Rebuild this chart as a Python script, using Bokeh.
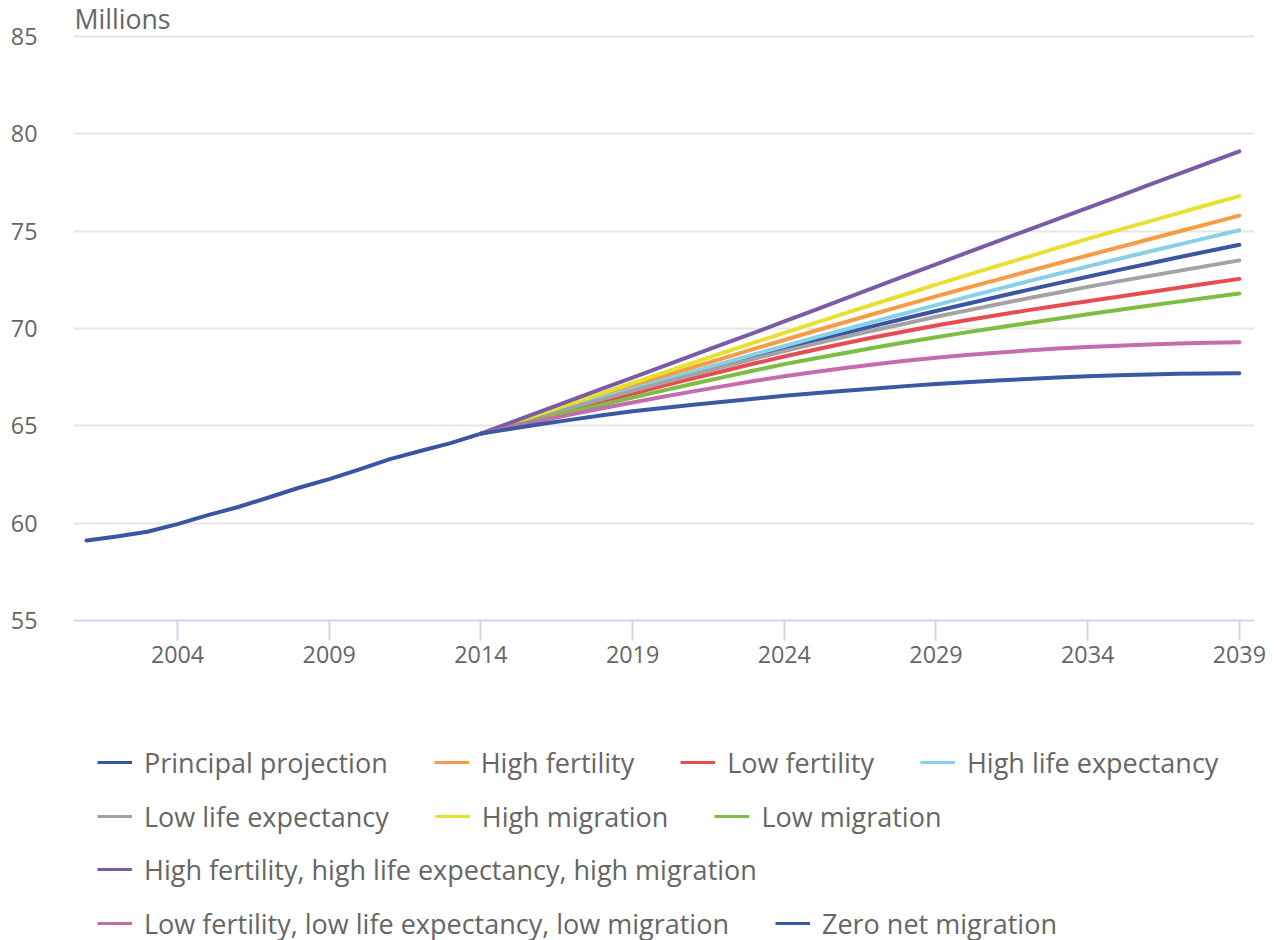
from bokeh.plotting import figure
from bokeh.models import Range1d, FixedTicker, Legend, LegendItem, Label
from bokeh.layouts import column
from bokeh.embed import file_html
from bokeh.resources import INLINE

# ---------------- data (millions) ----------------
hist_years = list(range(2001, 2015))
hist_values = [59.11, 59.32, 59.56, 59.95, 60.41, 60.83, 61.32, 61.82, 62.26,
               62.76, 63.29, 63.71, 64.11, 64.60]

proj_years = list(range(2014, 2040))

principal = [64.60, 65.06, 65.52, 65.97, 66.41, 66.85, 67.29, 67.72, 68.15, 68.57,
             68.98, 69.38, 69.77, 70.15, 70.53, 70.90, 71.26, 71.62, 71.97, 72.32,
             72.66, 73.00, 73.33, 73.66, 73.98, 74.30]
high_fertility = [64.60, 65.10, 65.59, 66.08, 66.57, 67.05, 67.53, 68.01, 68.48, 68.95,
                  69.41, 69.87, 70.32, 70.77, 71.21, 71.65, 72.08, 72.50, 72.92, 73.34,
                  73.75, 74.16, 74.57, 74.98, 75.39, 75.80]
low_fertility = [64.60, 65.02, 65.44, 65.85, 66.25, 66.65, 67.05, 67.44, 67.82, 68.20,
                 68.56, 68.91, 69.24, 69.56, 69.86, 70.15, 70.42, 70.68, 70.93, 71.17,
                 71.40, 71.63, 71.86, 72.09, 72.32, 72.55]
high_life_exp = [64.60, 65.07, 65.53, 65.99, 66.45, 66.90, 67.35, 67.79, 68.23, 68.67,
                 69.10, 69.53, 69.95, 70.37, 70.79, 71.20, 71.61, 72.01, 72.41, 72.80,
                 73.19, 73.57, 73.94, 74.31, 74.68, 75.05]
low_life_exp = [64.60, 65.05, 65.50, 65.94, 66.37, 66.80, 67.22, 67.63, 68.04, 68.44,
                68.84, 69.21, 69.57, 69.92, 70.26, 70.60, 70.92, 71.23, 71.54, 71.84,
                72.14, 72.42, 72.69, 72.96, 73.23, 73.50]
high_migration = [64.60, 65.12, 65.64, 66.16, 66.68, 67.20, 67.72, 68.24, 68.76, 69.27,
                  69.78, 70.28, 70.78, 71.27, 71.76, 72.25, 72.73, 73.20, 73.67, 74.14,
                  74.60, 75.05, 75.49, 75.93, 76.37, 76.80]
low_migration = [64.60, 64.98, 65.35, 65.72, 66.09, 66.45, 66.81, 67.16, 67.50, 67.84,
                 68.17, 68.46, 68.74, 69.02, 69.29, 69.55, 69.80, 70.04, 70.27, 70.50,
                 70.73, 70.95, 71.17, 71.38, 71.59, 71.80]
high_all = [64.60, 65.18, 65.76, 66.33, 66.91, 67.48, 68.06, 68.63, 69.21, 69.78,
            70.36, 70.95, 71.54, 72.12, 72.71, 73.30, 73.88, 74.46, 75.04, 75.62,
            76.20, 76.78, 77.36, 77.94, 78.52, 79.10]
low_all = [64.60, 64.94, 65.27, 65.59, 65.90, 66.20, 66.49, 66.77, 67.04, 67.30,
           67.55, 67.77, 67.97, 68.16, 68.34, 68.50, 68.64, 68.76, 68.87, 68.97,
           69.05, 69.12, 69.18, 69.23, 69.27, 69.30]
zero_net = [64.60, 64.85, 65.09, 65.32, 65.54, 65.75, 65.92, 66.08, 66.24, 66.39,
            66.54, 66.67, 66.80, 66.92, 67.04, 67.15, 67.24, 67.33, 67.41, 67.48,
            67.55, 67.60, 67.64, 67.67, 67.69, 67.70]

series_names = ["Principal projection", "High fertility", "Low fertility",
                "High life expectancy", "Low life expectancy", "High migration",
                "Low migration", "High fertility, high life expectancy, high migration",
                "Low fertility, low life expectancy, low migration", "Zero net migration"]
series_values = [principal, high_fertility, low_fertility, high_life_exp, low_life_exp,
                 high_migration, low_migration, high_all, low_all, zero_net]
series_colors = ["#3a55a3", "#f59c45", "#e94c50", "#88cfe8", "#a3a3a3",
                 "#e8e030", "#7cbd42", "#7a5ba6", "#c56cad", "#3b59a3"]

x_ticks = [2004, 2009, 2014, 2019, 2024, 2029, 2034, 2039]
y_ticks = [55, 60, 65, 70, 75, 80, 85]
y_unit_label = "Millions"

legend_rows = [[0, 1, 2, 3], [4, 5, 6], [7], [8, 9]]

# ---------------- chart figure ----------------
TEXT = "#666666"
FONT = "Open Sans"
LINE_W = 4

Y_MIN, Y_MAX = 55, 85
FRAME_TOP = 36          # px from top where the 85 gridline sits
PLOT_H = 584            # px between the 55 and 85 gridlines
PX = (Y_MAX - Y_MIN) / PLOT_H            # data units per pixel
y_top = Y_MAX + FRAME_TOP * PX           # headroom for the unit label

p = figure(width=1276, height=680, output_backend="svg", toolbar_location=None,
           x_range=Range1d(2000.57, 2039.5), y_range=Range1d(Y_MIN, y_top),
           min_border_left=73, min_border_right=22, min_border_top=0,
           min_border_bottom=60)
p.title = None
p.outline_line_color = None
p.background_fill_color = "white"
p.border_fill_color = "white"

p.xgrid.grid_line_color = None
p.ygrid.grid_line_color = "#e6e6e6"
p.ygrid.grid_line_width = 2

p.xaxis.ticker = FixedTicker(ticks=x_ticks)
p.xaxis.axis_line_color = "#ccd6eb"
p.xaxis.axis_line_width = 2
p.xaxis.major_tick_line_color = "#ccd6eb"
p.xaxis.major_tick_line_width = 2
p.xaxis.major_tick_out = 20
p.xaxis.major_tick_in = 0
p.xaxis.minor_tick_line_color = None
p.xaxis.major_label_text_font = FONT
p.xaxis.major_label_text_font_size = "23.3px"
p.xaxis.major_label_text_color = TEXT
p.xaxis.major_label_standoff = 5

p.yaxis.ticker = FixedTicker(ticks=y_ticks)
p.yaxis.axis_line_color = None
p.yaxis.major_tick_line_color = None
p.yaxis.minor_tick_line_color = None
p.yaxis.major_tick_out = 0
p.yaxis.major_tick_in = 0
p.yaxis.major_label_text_font = FONT
p.yaxis.major_label_text_font_size = "23.3px"
p.yaxis.major_label_text_color = TEXT
p.yaxis.major_label_standoff = 36

for i, (name, vals, col) in enumerate(zip(series_names, series_values, series_colors)):
    if i == 0:
        xs = hist_years[:-1] + proj_years
        ys = hist_values[:-1] + vals
    else:
        xs = proj_years
        ys = vals
    p.line(xs, ys, line_color=col, line_width=LINE_W, line_cap="round",
           line_join="round")

# unit label above the top gridline
p.add_layout(Label(x=2000.57, y=Y_MAX + 18 * PX, x_offset=1, text=y_unit_label,
                   text_font=FONT, text_font_size="26.7px", text_color=TEXT,
                   text_baseline="alphabetic", text_align="left"))

# ---------------- legend figure ----------------
L_H = 260
q = figure(width=1276, height=L_H, output_backend="svg", toolbar_location=None,
           x_axis_location=None, y_axis_location=None,
           min_border_left=73, min_border_right=22, min_border_top=0,
           min_border_bottom=0, x_range=Range1d(0, 1), y_range=Range1d(0, 1))
q.title = None
q.outline_line_color = None
q.xgrid.grid_line_color = None
q.ygrid.grid_line_color = None

# legend proxies (same series, outside the legend panel's empty range)
proxies = [q.line(proj_years, vals, line_color=col, line_width=3)
           for vals, col in zip(series_values, series_colors)]

ROW_H = 40
row_tops = [62, 116, 169, 223]   # pixel tops of the legend rows
for row, top in zip(legend_rows, row_tops):
    items = [LegendItem(label=series_names[k], renderers=[proxies[k]]) for k in row]
    lg = Legend(items=items, orientation="horizontal",
                location=(24, L_H - top - ROW_H),
                spacing=46, padding=0, margin=0, label_standoff=12,
                glyph_width=35, glyph_height=ROW_H, label_height=ROW_H,
                label_text_font=FONT, label_text_font_size="27px",
                label_text_color=TEXT, border_line_color=None,
                background_fill_alpha=0)
    q.add_layout(lg, "center")

open("out.html", "w").write(file_html(column(p, q), INLINE))
